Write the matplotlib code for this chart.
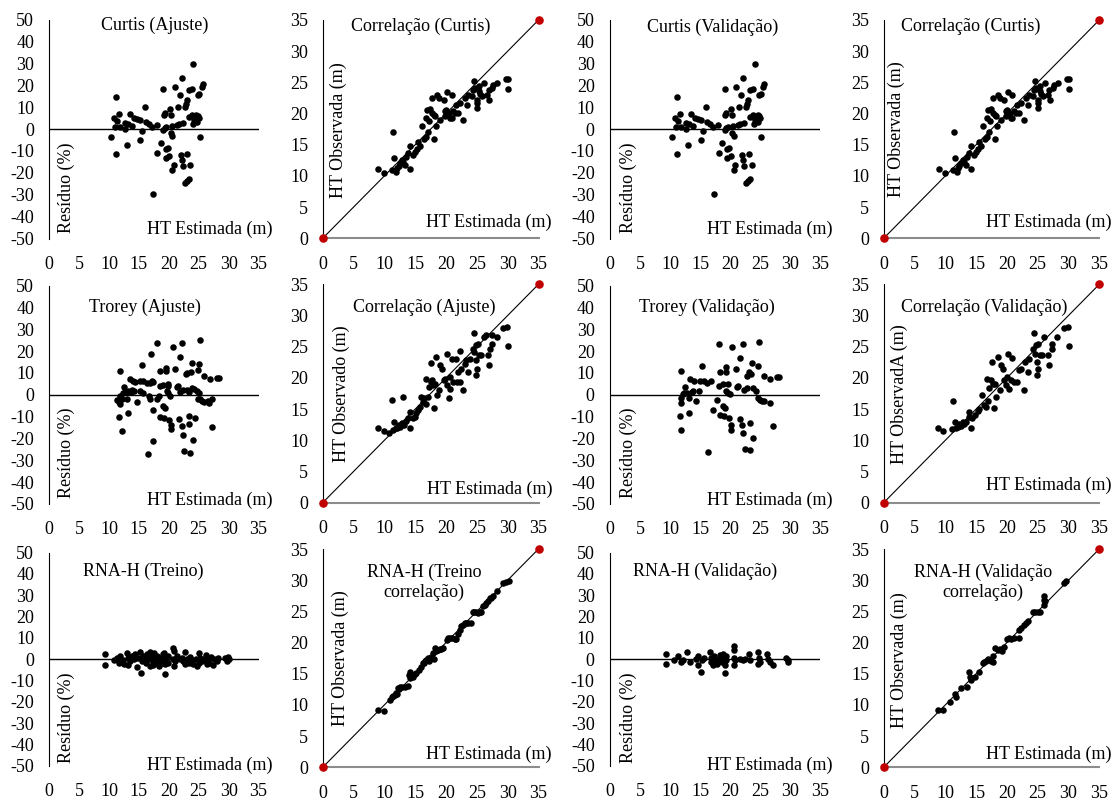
import matplotlib
matplotlib.use("Agg")
import matplotlib.pyplot as plt

plt.rcParams['font.family'] = ['Liberation Serif', 'DejaVu Serif']

W, H = 1116, 800
FS = 13

# ---------------- data ----------------
# Curtis residuals (Ajuste and Validação panels show the same points)
curtis_res_x = [11.17, 10.83, 11.4, 11.0, 11.7, 11.8, 12.7, 12.6, 13.1, 13.5, 13.8, 14.1, 14.6, 15.1,
                15.5, 16.0, 16.1, 16.6, 17.1, 18.0, 10.4, 11.2, 13.0, 15.1, 17.3, 18.1, 18.7, 19.1,
                19.2, 19.4, 19.1, 19.4, 19.6, 19.5, 19.8, 19.5, 20.1, 20.2, 20.3, 20.5, 20.3, 20.6,
                20.8, 20.6, 21.0, 21.3, 21.5, 21.7, 21.9, 22.0, 22.2, 22.2, 22.3, 22.4, 22.7, 23.0,
                22.7, 22.9, 23.0, 23.1, 23.3, 23.4, 23.4, 23.6, 23.8, 23.8, 24.0, 24.1, 24.2, 24.4,
                24.6, 24.7, 24.8, 25.0, 25.1, 24.9, 25.2, 25.5, 25.7]
curtis_res_y = [14.6, 4.8, 3.8, 1.0, 6.8, 0.75, -0.15, 2.6, 2.3, 6.8, 1.4, 4.8, 4.4, 4.1,
                -0.75, 10.1, 3.3, 2.3, 1.0, 1.8, -3.8, -11.4, -7.2, -5.0, -29.8, -11.0, -6.2, 18.4,
                6.3, 7.1, -0.5, 0.3, 1.0, -9.2, -8.7, -13.3, -12.5, 9.3, 6.3, 1.4, -2.0, -3.2,
                -16.3, -18.5, 19.1, 1.8, 10.1, 2.3, 15.7, -11.7, 23.2, -14.0, -17.0, 2.9, -24.5, -23.8,
                10.1, 11.6, 13.1, -11.3, -23.0, 17.6, 5.6, -16.3, 18.4, 6.3, 2.3, 29.7, 4.1, 5.3,
                6.3, 3.3, 15.7, 4.8, 16.1, 5.9, -3.5, 19.4, 20.6]

# Curtis correlation (same points in both correlation panels)
curtis_cor_x = [8.9, 10.0, 11.4, 11.6, 11.2, 11.9, 12.0, 12.3, 12.5, 12.8, 13.1, 13.4, 13.5, 13.9,
                14.2, 14.2, 14.6, 15.0, 15.3, 15.5, 15.8, 16.1, 16.4, 16.8, 16.9, 16.7, 17.1, 17.3,
                17.4, 17.7, 17.7, 18.0, 18.1, 18.2, 18.4, 18.5, 18.9, 19.1, 19.6, 19.8, 19.8, 20.0,
                20.2, 20.5, 20.7, 20.9, 20.9, 21.2, 21.5, 21.7, 22.0, 22.3, 22.7, 23.1, 23.4, 23.6,
                24.2, 24.4, 24.6, 24.7, 25.0, 25.0, 25.1, 25.3, 25.4, 25.5, 25.8, 26.2, 26.6, 27.0,
                26.9, 27.5, 27.7, 28.3, 29.7, 30.1, 30.1]
curtis_cor_y = [11.1, 10.4, 17.1, 12.9, 10.9, 10.7, 11.3, 11.6, 12.1, 12.6, 12.3, 11.8, 13.1, 13.7,
                14.8, 11.1, 13.4, 13.9, 14.3, 15.4, 14.8, 18.0, 15.9, 16.2, 20.6, 19.3, 17.1, 18.8,
                20.8, 22.5, 20.1, 19.8, 15.9, 19.6, 18.0, 23.0, 22.5, 18.9, 22.2, 20.4, 19.6, 20.6,
                23.4, 20.1, 19.3, 23.0, 19.3, 20.4, 20.1, 21.4, 20.1, 21.7, 18.9, 22.5, 21.3, 23.0,
                22.8, 23.8, 25.2, 24.1, 22.2, 20.9, 21.7, 23.6, 24.4, 23.2, 22.8, 24.9, 23.0, 22.2,
                23.8, 24.1, 24.5, 24.9, 25.5, 25.6, 24.0]

# Trorey (Ajuste) residuals
trorey_aj_res_x = [11.9, 11.3, 11.6, 11.8, 12.1, 11.8, 12.3, 12.5, 12.7, 13.0, 13.0, 13.2, 13.5, 13.6,
                   13.8, 14.0, 14.1, 11.7, 12.1, 13.2, 14.3, 14.6, 15.1, 15.2, 15.5, 15.6, 15.7, 16.3,
                   16.6, 16.8, 16.9, 17.0, 17.1, 17.3, 17.4, 17.3, 16.5, 18.1, 18.1, 18.4, 18.5, 18.5,
                   18.6, 19.0, 19.1, 19.2, 19.4, 19.5, 19.5, 19.7, 19.8, 19.9, 19.9, 20.1, 20.2, 20.3,
                   20.3, 20.7, 21.1, 21.3, 21.6, 21.8, 21.7, 21.9, 22.2, 22.2, 22.3, 22.4, 22.6, 22.9,
                   23.0, 23.1, 23.3, 23.4, 23.4, 23.6, 23.7, 23.8, 23.8, 24.1, 24.2, 24.4, 24.7, 24.8,
                   24.8, 25.0, 25.1, 25.2, 25.2, 25.5, 25.8, 25.9, 26.6, 26.8, 26.9, 27.2, 27.3, 28.0,
                   28.4]
trorey_aj_res_y = [10.8, -2.4, -3.2, -4.3, -1.8, -0.6, 0.6, 3.7, 1.2, -2.1, 1.2, 1.7, 7.0, 1.2,
                   2.1, 6.3, 1.7, -10.1, -16.6, -8.5, 5.8, -3.4, 6.3, 1.7, 13.4, 0.9, 6.3, 5.5,
                   -0.6, 5.2, -2.1, 18.5, 6.3, 5.8, -7.0, -21.2, -26.9, 23.5, -2.1, -0.6, 10.8, 4.0,
                   -10.1, 4.3, -5.2, -10.5, -6.0, 10.8, 12.4, 1.7, 4.0, 0.6, 4.7, -11.6, -0.6, -14.0,
                   -15.9, 22.0, 11.9, 3.7, 4.0, 17.4, -11.3, 1.2, 23.8, -14.4, -18.2, 2.1, -25.8, 9.3,
                   2.4, 10.1, 1.2, -9.5, -13.6, -26.6, 10.4, 14.7, 3.2, -20.5, 2.7, -10.5, 1.7, 11.3,
                   -1.8, 13.9, 0.9, 25.0, -2.1, -2.9, 8.5, -3.4, -2.9, -4.0, 7.3, -1.8, -14.7, 7.8,
                   7.8]

# Trorey (Validação) residuals
trorey_va_res_x = [11.9, 11.6, 11.8, 11.9, 12.1, 12.3, 12.5, 12.8, 11.9, 13.1, 13.1, 13.4, 13.6, 13.8,
                   14.0, 14.4, 14.9, 15.0, 15.3, 15.7, 16.1, 16.4, 16.9, 17.2, 17.8, 18.1, 18.2, 18.3,
                   18.4, 18.8, 18.9, 19.0, 19.2, 19.3, 19.4, 19.4, 19.7, 19.7, 19.9, 20.0, 20.1, 20.1,
                   20.4, 21.0, 21.1, 21.4, 21.6, 21.6, 22.0, 22.1, 22.1, 22.3, 22.5, 22.8, 22.9, 23.1,
                   23.3, 23.4, 23.5, 23.6, 23.8, 23.9, 24.4, 24.6, 24.7, 24.9, 25.0, 25.3, 25.6, 25.7,
                   26.6, 26.7, 27.1, 27.8, 28.2]
trorey_va_res_y = [10.7, -9.6, -3.7, -1.4, 0.2, 0.9, 3.6, 0.9, -16.1, -8.4, -1.7, 7.1, 1.4, 1.7,
                   6.4, -2.9, 1.7, 6.4, 13.3, 6.4, 5.6, -26.2, 6.4, -6.8, -2.2, 23.4, 4.0, 10.2,
                   -9.1, 4.8, -5.3, -9.9, -6.0, 10.2, 12.6, 1.7, 4.8, 0.9, -10.7, 0.2, -16.1, -13.8,
                   21.9, 11.9, 3.6, 4.0, 16.7, -11.0, -13.8, 23.4, -17.7, 2.0, -25.0, 8.7, 3.3, 10.2,
                   -13.0, -25.4, 9.5, 14.4, 3.3, -20.0, 1.7, 13.3, -1.4, 24.2, -2.6, -2.9, 8.7, -2.9,
                   -3.7, 7.1, -14.1, 7.9, 7.9]

# Correlação (Ajuste) - Trorey
trorey_aj_cor_x = [8.9, 10.0, 10.8, 11.3, 11.6, 11.4, 11.9, 12.1, 12.3, 12.5, 12.8, 13.1, 13.2, 13.5,
                   13.9, 14.1, 14.2, 14.6, 14.9, 15.2, 15.5, 15.8, 16.0, 16.2, 16.4, 16.7, 16.8, 17.1,
                   17.3, 17.5, 17.6, 17.8, 17.9, 18.1, 18.2, 18.4, 18.6, 18.9, 19.1, 19.4, 19.6, 19.8,
                   20.1, 20.2, 20.5, 20.6, 20.7, 20.9, 21.1, 21.6, 21.8, 22.0, 22.2, 22.3, 22.5, 22.8,
                   23.0, 23.3, 23.6, 23.9, 24.3, 24.5, 24.5, 24.8, 24.9, 24.9, 25.0, 25.2, 25.4, 25.6,
                   26.1, 26.5, 26.8, 26.9, 27.1, 27.4, 27.5, 28.3, 29.3, 29.9, 30.0]
trorey_aj_cor_y = [11.9, 11.5, 11.1, 16.4, 13.0, 11.7, 11.9, 12.0, 12.5, 12.2, 12.7, 17.0, 12.5, 13.1,
                   13.6, 14.6, 11.9, 13.5, 13.8, 14.3, 14.9, 15.4, 17.0, 16.2, 16.7, 15.8, 19.9, 17.0,
                   18.6, 19.4, 22.4, 19.7, 18.9, 15.1, 19.1, 23.4, 17.2, 18.1, 22.1, 21.5, 19.7, 19.9,
                   23.9, 18.9, 16.7, 18.3, 20.2, 23.1, 19.4, 23.1, 19.4, 21.0, 19.4, 24.3, 21.5, 18.1,
                   22.3, 22.9, 21.0, 23.1, 24.7, 27.2, 24.1, 25.3, 22.9, 20.5, 21.5, 25.5, 23.7, 23.7,
                   26.6, 26.9, 23.7, 22.1, 24.7, 25.4, 26.8, 26.6, 28.0, 28.2, 25.1]

# Correlação (Validação) - Trorey
trorey_va_cor_x = [8.8, 9.7, 11.2, 11.5, 11.1, 11.7, 12.0, 12.3, 12.5, 12.8, 13.1, 13.4, 13.8, 13.9,
                   14.1, 14.4, 14.9, 15.3, 15.5, 15.9, 16.3, 16.6, 16.7, 17.0, 17.1, 17.4, 17.6, 17.7,
                   17.9, 18.1, 18.3, 18.5, 18.8, 19.0, 19.3, 19.6, 19.8, 20.0, 20.1, 20.4, 20.7, 20.8,
                   21.2, 21.7, 21.9, 22.3, 22.7, 23.0, 23.4, 23.6, 24.2, 24.4, 24.6, 24.7, 24.9, 24.9,
                   25.0, 25.1, 25.4, 25.7, 26.1, 26.8, 26.6, 27.4, 27.4, 28.2, 29.3, 29.9, 30.0]
trorey_va_cor_y = [11.9, 11.5, 16.3, 13.0, 11.8, 11.9, 12.2, 12.6, 12.3, 12.9, 12.6, 13.0, 13.8, 14.5,
                   11.9, 13.5, 14.1, 14.7, 15.0, 17.2, 15.7, 15.4, 19.9, 16.3, 18.4, 19.7, 22.5, 19.0,
                   15.2, 19.1, 17.0, 23.4, 18.1, 22.1, 21.5, 19.7, 18.9, 20.2, 23.9, 18.3, 19.7, 23.2,
                   19.4, 19.4, 21.2, 21.4, 18.1, 22.5, 21.0, 23.1, 24.7, 27.2, 23.9, 25.3, 22.6, 20.5,
                   21.5, 25.5, 23.6, 23.7, 26.6, 22.1, 23.7, 25.5, 24.6, 26.6, 28.0, 28.2, 25.1]

# RNA-H (Treino) residuals
rna_tr_res_x = [9.3, 9.3, 10.8, 11.4, 11.7, 11.9, 12.3, 12.5, 13.0, 13.1, 13.2, 13.5, 13.8, 14.1,
                14.3, 14.6, 14.9, 15.2, 15.3, 15.5, 15.6, 15.9, 16.2, 16.3, 16.6, 16.9, 16.9, 17.1,
                17.3, 17.4, 17.5, 17.7, 17.9, 18.1, 18.3, 18.4, 18.6, 18.8, 19.0, 19.1, 19.2, 19.4,
                19.4, 19.7, 19.8, 19.9, 20.7, 20.8, 20.7, 20.8, 21.1, 21.3, 21.9, 22.2, 22.4, 22.7,
                22.7, 23.0, 23.3, 23.6, 23.8, 24.1, 24.6, 24.7, 25.0, 25.1, 25.2, 25.5, 25.8, 26.2,
                26.4, 26.6, 26.8, 27.0, 27.4, 27.5, 28.0, 28.3, 29.4, 29.7, 30.0, 29.9]
rna_tr_res_y = [2.3, -2.7, -0.5, 0.8, -1.6, 1.6, -0.5, -2.3, 3.1, 0.5, -2.7, -0.8, 1.6, 0.0,
                2.3, -3.6, 0.8, 3.6, -6.3, -0.8, 1.6, 0.5, -1.6, 2.3, 0.0, 3.6, -3.1, 1.6,
                -0.8, -2.7, 2.7, 0.0, -1.6, 1.6, -3.1, -0.5, 0.8, -1.6, 2.3, 0.0, 3.1, -2.3,
                -6.7, 0.5, -1.6, 1.6, 5.5, 3.9, 0.0, -3.1, -0.8, 1.6, 0.0, 0.8, -0.8, 3.6,
                -2.3, 0.0, -1.6, 1.1, -0.5, -2.0, 0.0, -3.1, 2.7, -1.6, 0.8, -0.8, 0.0, 2.0,
                -2.3, 0.5, -1.6, 1.1, -2.7, 0.0, -0.8, 0.5, 0.8, -0.8, 0.0, 1.1]

# RNA-H (Validação) residuals
rna_va_res_x = [9.3, 9.3, 10.6, 11.4, 11.8, 12.2, 12.9, 13.3, 14.4, 14.6, 14.7, 15.1, 15.3, 15.6,
                16.7, 16.8, 16.9, 17.1, 17.3, 17.5, 17.8, 18.1, 18.3, 18.6, 18.9, 19.0, 19.2, 19.2,
                19.3, 19.4, 20.6, 20.6, 20.6, 20.7, 20.8, 21.7, 22.1, 22.5, 23.2, 23.3, 24.7, 24.7,
                24.9, 25.0, 26.1, 26.4, 26.7, 27.1, 29.4, 29.7, 29.6]
rna_va_res_y = [2.3, -2.3, -0.2, 1.4, -1.2, -0.2, 3.4, -1.2, 0.3, -2.8, 1.4, -5.9, -0.5, 0.8,
                3.4, 0.8, -1.2, -2.8, 1.4, -0.5, -2.0, 0.3, 1.9, -1.2, 2.3, 0.3, -2.8, -6.4,
                -0.5, 1.4, 6.1, 4.2, 0.8, -2.8, -0.5, 0.3, -0.2, 0.3, 2.3, -0.5, 3.4, -2.0,
                0.8, -1.2, 2.3, 0.3, -1.2, -2.5, 0.8, -0.2, -1.2]

# RNA-H (Treino) correlation
rna_tr_cor_x = [8.9, 9.9, 10.9, 11.2, 11.4, 11.7, 12.0, 12.2, 12.5, 12.8, 13.3, 13.9, 14.0, 14.1,
                14.2, 14.7, 15.2, 15.6, 16.0, 16.3, 16.6, 16.8, 17.1, 17.4, 17.6, 17.9, 18.2, 18.4,
                18.7, 19.0, 19.5, 20.1, 20.3, 20.6, 20.9, 21.4, 21.7, 22.0, 22.2, 22.5, 22.8, 23.0,
                23.3, 23.6, 24.0, 24.4, 24.6, 24.9, 25.2, 25.5, 25.7, 26.0, 26.3, 26.5, 26.8, 27.1,
                27.3, 27.6, 28.3, 29.3, 29.8, 30.2, 11.9, 12.4, 17.3, 17.8, 19.2, 16.5, 18.0, 15.0]
rna_tr_cor_y = [9.2, 9.1, 10.8, 11.2, 11.5, 11.6, 11.7, 12.7, 12.8, 12.9, 12.9, 13.1, 14.8, 15.3,
                14.3, 14.5, 15.1, 15.6, 16.1, 16.7, 17.0, 17.2, 17.5, 17.4, 17.7, 18.4, 19.2, 18.7,
                18.8, 19.0, 19.1, 20.4, 20.7, 20.7, 20.7, 20.6, 20.6, 21.3, 22.0, 22.6, 22.8, 23.1,
                23.2, 23.2, 23.2, 24.9, 24.9, 24.9, 24.7, 24.9, 24.9, 25.9, 26.1, 26.3, 26.7, 27.1,
                27.2, 27.4, 28.2, 29.5, 29.7, 29.8, 11.9, 12.6, 17.0, 17.6, 18.9, 16.8, 17.3, 14.9]

# RNA-H (Validação) correlation
rna_va_cor_x = [8.8, 9.7, 10.7, 11.5, 11.8, 12.5, 13.5, 13.9, 14.0, 14.2, 14.9, 15.5, 16.1, 16.3,
                16.6, 17.0, 17.4, 17.7, 17.8, 18.1, 18.5, 18.8, 19.2, 19.6, 20.0, 20.4, 20.7, 21.2,
                21.9, 21.9, 22.3, 22.7, 23.1, 23.5, 24.2, 24.6, 25.0, 25.4, 26.1, 26.1, 26.1, 26.2,
                29.3, 29.6]
rna_va_cor_y = [9.2, 9.2, 10.5, 11.7, 11.3, 12.7, 12.9, 15.2, 14.5, 14.0, 14.5, 15.3, 16.7, 16.9,
                17.0, 17.4, 17.0, 16.9, 17.9, 19.1, 18.8, 19.0, 18.7, 19.3, 20.6, 20.7, 20.6, 20.7,
                20.7, 22.0, 22.3, 22.8, 23.2, 23.4, 24.9, 24.9, 24.9, 24.9, 26.0, 26.8, 27.4, 26.6,
                29.5, 29.8]

# tick labels
res_ticks = [50, 40, 30, 20, 10, 0, -10, -20, -30, -40, -50]
cor_ticks = [0, 5, 10, 15, 20, 25, 30, 35]
x_ticks = [0, 5, 10, 15, 20, 25, 30, 35]
line_end = [0, 35]

# ---------------- figure ----------------
fig = plt.figure(figsize=(W / 100, H / 100), dpi=100)


def frac(x0, x1, y0, y1):
    return [x0 / W, 1 - y1 / H, (x1 - x0) / W, (y1 - y0) / H]


def ftext(x, y, s, **kw):
    fig.text(x / W, 1 - y / H, s, fontsize=FS, ha='center', va='center', **kw)


def residual_ax(box, xs, ys):
    ax = fig.add_axes(frac(*box))
    ax.set_xlim(0, 35)
    ax.set_ylim(-50, 50)
    for s in ['top', 'right', 'bottom']:
        ax.spines[s].set_visible(False)
    ax.spines['left'].set_color('black')
    ax.spines['left'].set_linewidth(0.8)
    ax.axhline(0, color='black', lw=1.0, zorder=1)
    ax.scatter(xs, ys, s=22, color='black', zorder=3, linewidths=0)
    ax.set_yticks(res_ticks)
    ax.set_yticklabels([str(t) for t in res_ticks])
    ax.set_xticks(x_ticks)
    ax.set_xticklabels([str(t) for t in x_ticks])
    ax.tick_params(axis='y', length=0, pad=11, labelsize=FS)
    ax.tick_params(axis='x', length=0, pad=12.5, labelsize=FS)
    ax.patch.set_alpha(0)
    return ax


def corr_ax(box, xs, ys):
    ax = fig.add_axes(frac(*box))
    ax.set_xlim(0, 35)
    ax.set_ylim(0, 35)
    for s in ['top', 'right']:
        ax.spines[s].set_visible(False)
    ax.spines['left'].set_color('black')
    ax.spines['left'].set_linewidth(0.8)
    ax.spines['bottom'].set_color('#8c8c8c')
    ax.spines['bottom'].set_linewidth(1.5)
    ax.plot(line_end, line_end, color='black', lw=0.8, zorder=2)
    ax.scatter(xs, ys, s=22, color='black', zorder=3, linewidths=0)
    ax.scatter(line_end, line_end, s=38, color='#C00000', zorder=4, clip_on=False, linewidths=0)
    ax.set_yticks(cor_ticks)
    ax.set_yticklabels([str(t) for t in cor_ticks])
    ax.set_xticks(x_ticks)
    ax.set_xticklabels([str(t) for t in x_ticks])
    ax.tick_params(axis='y', length=0, pad=10.5, labelsize=FS)
    ax.tick_params(axis='x', length=0, pad=12.5, labelsize=FS)
    ax.patch.set_alpha(0)
    return ax


col_res = [(49.3, 258.5), (610, 820)]
col_cor = [(322.7, 538.5), (883.7, 1099.3)]
row_res = [(19.5, 238.5), (285.5, 504), (552.5, 766)]
row_cor = [(20, 238.3), (284.3, 502.7), (549, 767.3)]

# row 1
residual_ax((*col_res[0], *row_res[0]), curtis_res_x, curtis_res_y)
corr_ax((*col_cor[0], *row_cor[0]), curtis_cor_x, curtis_cor_y)
residual_ax((*col_res[1], *row_res[0]), curtis_res_x, curtis_res_y)
corr_ax((*col_cor[1], *row_cor[0]), curtis_cor_x, curtis_cor_y)
# row 2
residual_ax((*col_res[0], *row_res[1]), trorey_aj_res_x, trorey_aj_res_y)
corr_ax((*col_cor[0], *row_cor[1]), trorey_aj_cor_x, trorey_aj_cor_y)
residual_ax((*col_res[1], *row_res[1]), trorey_va_res_x, trorey_va_res_y)
corr_ax((*col_cor[1], *row_cor[1]), trorey_va_cor_x, trorey_va_cor_y)
# row 3
residual_ax((*col_res[0], *row_res[2]), rna_tr_res_x, rna_tr_res_y)
corr_ax((*col_cor[0], *row_cor[2]), rna_tr_cor_x, rna_tr_cor_y)
residual_ax((*col_res[1], *row_res[2]), rna_va_res_x, rna_va_res_y)
corr_ax((*col_cor[1], *row_cor[2]), rna_va_cor_x, rna_va_cor_y)

# titles
ftext(155, 25, "Curtis (Ajuste)")
ftext(420.7, 26.7, "Correlação (Curtis)")
ftext(712.7, 27.3, "Curtis (Validação)")
ftext(971, 26.7, "Correlação (Curtis)")
ftext(144.5, 307.7, "Trorey (Ajuste)")
ftext(424, 307, "Correlação (Ajuste)")
ftext(707, 307.7, "Trorey (Validação)")
ftext(984, 307.7, "Correlação (Validação)")
ftext(143, 571.7, "RNA-H (Treino)")
ftext(424, 582.5, "RNA-H (Treino\ncorrelação)", multialignment='center')
ftext(705.3, 571.7, "RNA-H (Validação)")
ftext(983, 582.5, "RNA-H (Validação\ncorrelação)", multialignment='center')

# x labels
for (x, y) in [(210, 229.3), (489, 222.7), (770, 229.3), (1049, 222.7),
               (210, 500), (489.5, 489.3), (770, 500), (1049, 485),
               (210, 765), (489, 754), (770, 765), (1049, 754)]:
    ftext(x, y, "HT Estimada (m)")

# y labels
for (x, y) in [(66, 187.5), (628.3, 187.5), (66, 453), (628.3, 453), (66, 717.5), (628.3, 717.5)]:
    ftext(x, y, "Resíduo (%)", rotation=90)
ftext(338.3, 130, "HT Observada (m)", rotation=90)
ftext(896, 128.7, "HT Observada (m)", rotation=90)
ftext(341, 394, "HT Observado (m)", rotation=90)
ftext(899.3, 394, "HT ObservadA (m)", rotation=90)
ftext(340, 658, "HT Observada (m)", rotation=90)
ftext(899.3, 660, "HT Observada (m)", rotation=90)

fig.savefig("out.png", dpi=100)
